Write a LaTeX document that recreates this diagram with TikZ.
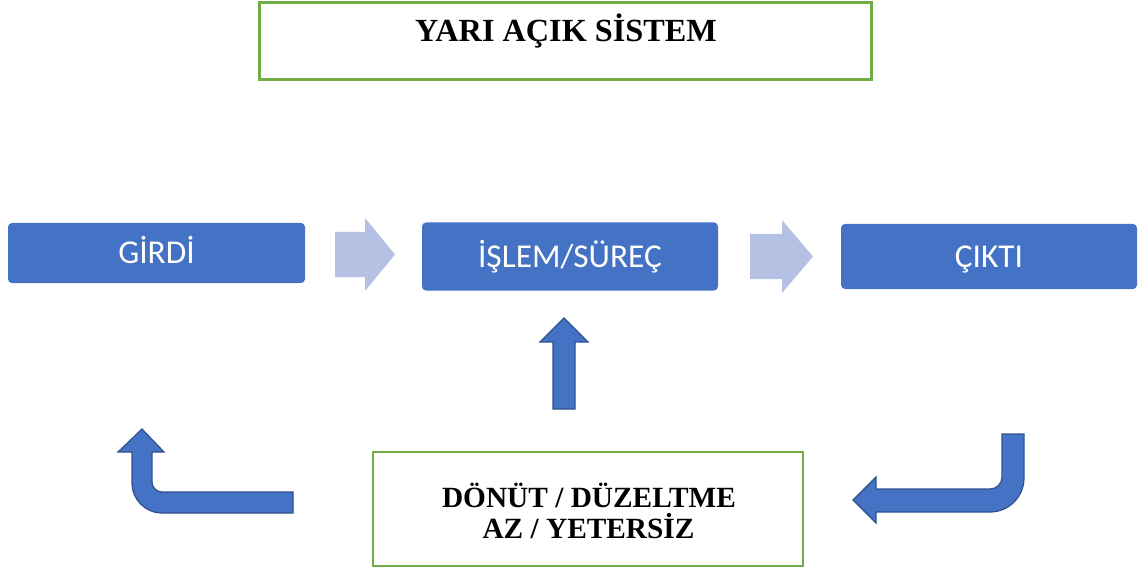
\documentclass[tikz,border=0pt]{standalone}
\usepackage{fontspec}
\setmainfont{Liberation Serif}
\newfontfamily\calib{Carlito}
\definecolor{boxblue}{HTML}{4472C4}
\definecolor{edgeblue}{HTML}{2F528F}
\definecolor{lightblue}{HTML}{B4C1E2}
\definecolor{frameGreen}{HTML}{70AD47}
\tikzset{
  procbox/.style={fill=boxblue, draw=none, rounded corners=3pt, inner sep=0pt,
    text=white, font=\calib\fontsize{25}{30}\selectfont, text height=15.8pt, text depth=0pt},
  framebox/.style={draw=frameGreen, line width=1.6pt, inner sep=0pt},
  titletext/.style={font=\bfseries\fontsize{24.2}{29}\selectfont, anchor=base, inner sep=0pt},
  fbtext/.style={font=\bfseries\fontsize{22}{26}\selectfont, anchor=base, inner sep=0pt},
  blockarrow/.style={fill=boxblue, draw=edgeblue, line width=0.9pt, line join=miter},
  lightarrow/.style={fill=lightblue, draw=none}
}
\begin{document}
\begin{tikzpicture}[x=0.75pt,y=-0.75pt]
\useasboundingbox (0,0) rectangle (1139,574);

% title frame
\node[framebox, minimum width=459pt, minimum height=57.8pt] (topbox) at (565.5,41) {};
\node[titletext] (title) at (566,42) {YARI AÇIK SİSTEM};

% process boxes
\node[procbox, minimum width=222.75pt, minimum height=45pt] (girdi) at (156.5,253) {GİRDİ};
\node[procbox, minimum width=222pt, minimum height=51pt] (islem) at (570,256.5) {İŞLEM/SÜREÇ};
\node[procbox, minimum width=222pt, minimum height=48.75pt] (cikti) at (989,256.5) {ÇIKTI};

% light arrows between boxes
\draw[lightarrow] (335,232) -- (365,232) -- (365,218) -- (395,254.5) -- (365,291) -- (365,277) -- (335,277) -- cycle;
\draw[lightarrow] (750,234) -- (782,234) -- (782,220) -- (813,256.5) -- (782,293) -- (782,279) -- (750,279) -- cycle;

% feedback frame
\node[framebox, minimum width=322.5pt, minimum height=85.5pt] (fbbox) at (588,509) {};
\node[fbtext] (fb1) at (589,507) {DÖNÜT / DÜZELTME};
\node[fbtext] (fb2) at (588.5,538) {AZ / YETERSİZ};

% up arrow
\draw[blockarrow] (553,409) -- (553,342) -- (540,342) -- (564,318) -- (588,342) -- (575,342) -- (575,409) -- cycle;

% left bent arrow
\draw[blockarrow] (293,492) -- (162,492)
  .. controls (156.5,492) and (152,487.5) .. (152,482)
  -- (152,452) -- (164,452) -- (142,429) -- (118,452) -- (132,452) -- (132,483)
  .. controls (132,499.6) and (145.4,513) .. (162,513)
  -- (293,513) -- cycle;

% right bent arrow
\draw[blockarrow] (1002,434) -- (1024,434) -- (1024,478)
  .. controls (1024,496.8) and (1008.8,512) .. (990,512)
  -- (876,512) -- (876,523) -- (853,500) -- (876,477) -- (876,489) -- (990,489)
  .. controls (996.6,489) and (1002,483.6) .. (1002,477)
  -- cycle;
\end{tikzpicture}
\end{document}
